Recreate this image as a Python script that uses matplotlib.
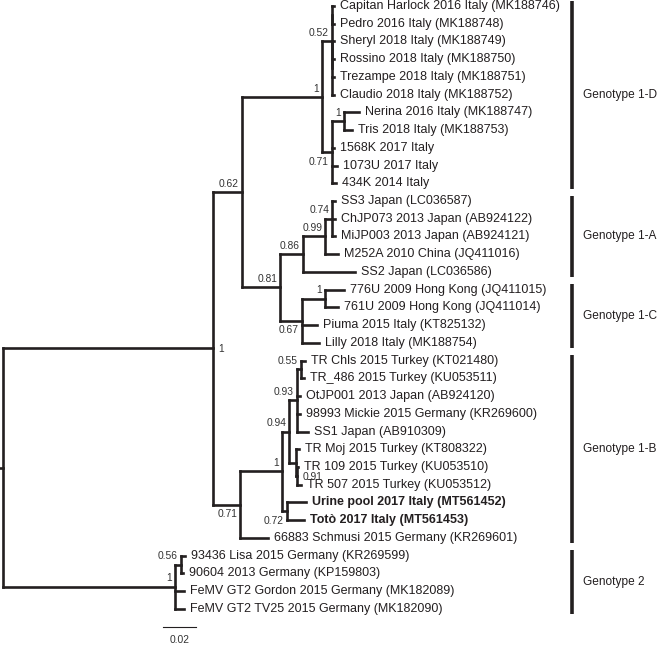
import matplotlib.pyplot as plt

plt.rcParams['font.family'] = ['Liberation Sans', 'DejaVu Sans']

# internal nodes: id, parent, branch length (subst./site), posterior support
node_id = ["root", "g1", "n062", "nD", "n052", "n052a", "n052b", "n071D", "nNT",
           "n081", "n086", "n099", "n074", "n067", "nHK",
           "n071B", "nBc", "n094", "n093", "n055", "nMoj", "n091", "n072",
           "g2", "n056"]
node_parent = [None, "root", "g1", "n062", "nD", "n052", "n052", "nD", "n071D",
               "n062", "n081", "n086", "n099", "n081", "n067",
               "g1", "n071B", "nBc", "n094", "n093", "n094", "nMoj", "nBc",
               "root", "g2"]
node_len = [0, 0.1273, 0.0176, 0.0485, 0.0060, 0, 0, 0.0060, 0.0073,
            0.0231, 0.0139, 0.0134, 0.0042, 0.0133, 0.0139,
            0.0164, 0.0255, 0.0042, 0.0048, 0.0024, 0.0042, 0.0006, 0.0030,
            0.1042, 0.0036]
node_support = ["", "1", "0.62", "1", "0.52", "", "", "0.71", "1",
                "0.81", "0.86", "0.99", "0.74", "0.67", "1",
                "0.71", "1", "0.94", "0.93", "0.55", "", "0.91", "0.72",
                "1", "0.56"]

# tips, top to bottom
tip_label = [
    "Capitan Harlock 2016 Italy (MK188746)", "Pedro 2016 Italy (MK188748)",
    "Sheryl 2018 Italy (MK188749)", "Rossino 2018 Italy (MK188750)",
    "Trezampe 2018 Italy (MK188751)", "Claudio 2018 Italy (MK188752)",
    "Nerina 2016 Italy (MK188747)", "Tris 2018 Italy (MK188753)",
    "1568K 2017 Italy", "1073U 2017 Italy", "434K 2014 Italy",
    "SS3 Japan (LC036587)", "ChJP073 2013 Japan (AB924122)",
    "MiJP003 2013 Japan (AB924121)", "M252A 2010 China (JQ411016)",
    "SS2 Japan (LC036586)", "776U 2009 Hong Kong (JQ411015)",
    "761U 2009 Hong Kong (JQ411014)", "Piuma 2015 Italy (KT825132)",
    "Lilly 2018 Italy (MK188754)", "TR Chls 2015 Turkey (KT021480)",
    "TR_486 2015 Turkey (KU053511)", "OtJP001 2013 Japan (AB924120)",
    "98993 Mickie 2015 Germany (KR269600)", "SS1 Japan (AB910309)",
    "TR Moj 2015 Turkey (KT808322)", "TR 109 2015 Turkey (KU053510)",
    "TR 507 2015 Turkey (KU053512)", "Urine pool 2017 Italy (MT561452)",
    "Totò 2017 Italy (MT561453)", "66883 Schmusi 2015 Germany (KR269601)",
    "93436 Lisa 2015 Germany (KR269599)", "90604 2013 Germany (KP159803)",
    "FeMV GT2 Gordon 2015 Germany (MK182089)",
    "FeMV GT2 TV25 2015 Germany (MK182090)",
]
tip_parent = ["n052a", "n052a", "n052b", "n052b", "n052b", "n052b",
              "nNT", "nNT", "n071D", "n071D", "n071D",
              "n074", "n074", "n074", "n099", "n086",
              "nHK", "nHK", "n067", "n067",
              "n055", "n055", "n093", "n093", "n093",
              "nMoj", "n091", "n091", "n072", "n072", "n071B",
              "n056", "n056", "g2", "g2"]
tip_len = [0.0012, 0.0012, 0.0012, 0.0012, 0.0012, 0.0012,
           0.0091, 0.0048, 0.0012, 0.0030, 0.0024,
           0.0018, 0.0018, 0.0018, 0.0079, 0.0315,
           0.0115, 0.0079, 0.0091, 0.0103,
           0.0024, 0.0018, 0.0018, 0.0018, 0.0067,
           0.0018, 0.0006, 0.0024, 0.0115, 0.0103, 0.0170,
           0.0024, 0.0012, 0.0055, 0.0055]
bold_tips = ["Urine pool 2017 Italy (MT561452)", "Totò 2017 Italy (MT561453)"]

genotypes = ["Genotype 1-D", "Genotype 1-A", "Genotype 1-C", "Genotype 1-B", "Genotype 2"]
geno_first = [0, 11, 16, 20, 31]
geno_last = [10, 15, 19, 30, 34]

below_labels = ["n071D", "n067", "n072", "n071B"]
right_labels = ["g1", "n091"]

# ---- layout
parent = dict(zip(node_id, node_parent))
blen = dict(zip(node_id, node_len))
for name, p, l in zip(tip_label, tip_parent, tip_len):
    parent[name] = p
    blen[name] = l

children = {}
for n, p in parent.items():
    if p is not None:
        children.setdefault(p, []).append(n)

xpos = {}
def set_x(n, x0):
    xpos[n] = x0 + blen[n]
    for c in children.get(n, []):
        set_x(c, xpos[n])
set_x("root", 0)

ypos = {name: i for i, name in enumerate(tip_label)}
def set_y(n):
    if n in ypos:
        return ypos[n]
    ys = [set_y(c) for c in children[n]]
    ypos[n] = (min(ys) + max(ys)) / 2
    return ypos[n]
set_y("root")

# ---- drawing
ink = '#231f20'
fig = plt.figure(figsize=(6.61, 6.45), dpi=100)
ax = fig.add_axes([0, 0, 1, 1])
ax.set_xlim(-0.00182, 0.39879)
ax.set_ylim(36.04, -0.338)
ax.axis('off')

lw = 1.9
for n, p in parent.items():
    if p is None:
        continue
    ax.plot([xpos[p], xpos[n]], [ypos[n], ypos[n]], color=ink, lw=lw,
            solid_capstyle='projecting')
for n, ch in children.items():
    ys = [ypos[c] for c in ch]
    ax.plot([xpos[n], xpos[n]], [min(ys), max(ys)], color=ink, lw=lw,
            solid_capstyle='projecting')
ax.plot([-0.00182, 0], [ypos["root"], ypos["root"]], color=ink, lw=lw)

for name in tip_label:
    ax.annotate(name, (xpos[name], ypos[name]), xytext=(4.3, 0),
                textcoords='offset points', ha='left', va='center',
                fontsize=9, color=ink,
                fontweight='bold' if name in bold_tips else 'normal')

for n, s in zip(node_id, node_support):
    if not s:
        continue
    if n in right_labels:
        off, ha = (4.0, -0.5), 'left'
    elif n in below_labels:
        off, ha = (-2.2, -7.0), 'right'
    else:
        off, ha = (-2.2, 6.0), 'right'
    ax.annotate(s, (xpos[n], ypos[n]), xytext=off, textcoords='offset points',
                ha=ha, va='center', fontsize=7.4, color='#333333')

# genotype bars
bar_x = 0.3448
for g, a, b in zip(genotypes, geno_first, geno_last):
    ax.plot([bar_x, bar_x], [a - 0.3, b + 0.3], color=ink, lw=2.6,
            solid_capstyle='butt')
    ax.annotate(g, (bar_x, (a + b) / 2), xytext=(7.8, 0),
                textcoords='offset points', ha='left', va='center',
                fontsize=8.6, color=ink)

# scale bar
sb_x, sb_len, sb_y = 0.097, 0.02, 35.03
ax.plot([sb_x, sb_x + sb_len], [sb_y, sb_y], color=ink, lw=0.8)
ax.annotate("0.02", (sb_x + sb_len / 2, sb_y), xytext=(0, -9.5),
            textcoords='offset points', ha='center', va='center',
            fontsize=7.4, color='#333333')

fig.savefig("out.png", dpi=100)
